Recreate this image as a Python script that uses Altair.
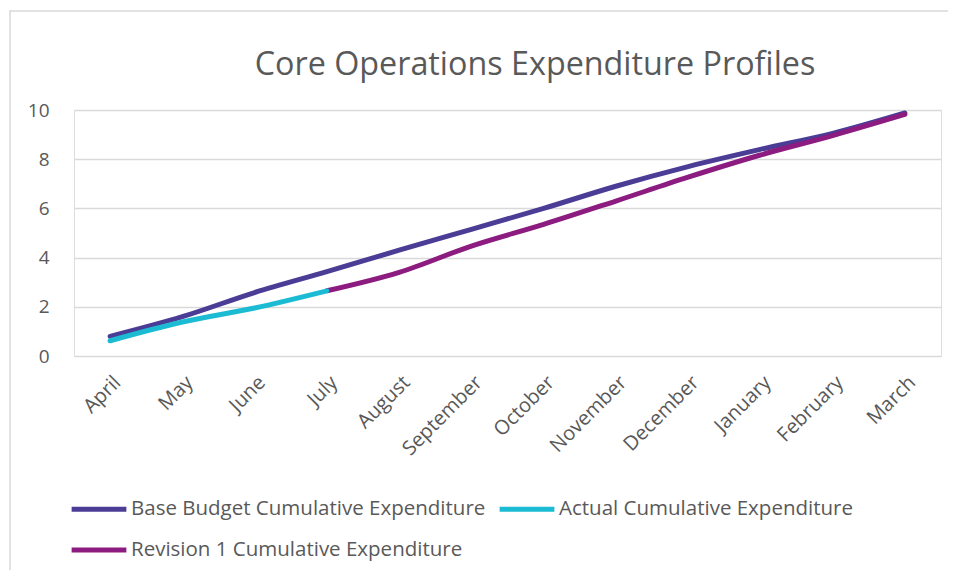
import altair as alt
import pandas as pd

title_text = "Core Operations Expenditure Profiles"
months = ["April", "May", "June", "July", "August", "September", "October",
          "November", "December", "January", "February", "March"]
base_budget = [0.80, 1.60, 2.58, 3.43, 4.30, 5.15, 6.00, 6.90, 7.70, 8.40, 9.05, 9.88]
actual = [0.62, 1.38, 1.95, 2.65]
revision1_months = months[3:]
revision1 = [2.65, 3.40, 4.47, 5.35, 6.30, 7.27, 8.17, 8.96, 9.82]

series = ["Base Budget Cumulative Expenditure", "Actual Cumulative Expenditure",
          "Revision 1 Cumulative Expenditure"]
colors = ["#4B3D96", "#1ABBD3", "#8C1C80"]

rows = []
for m, v in zip(months, base_budget):
    rows.append({"month": m, "value": v, "series": series[0], "order": 0})
for m, v in zip(revision1_months, revision1):
    rows.append({"month": m, "value": v, "series": series[2], "order": 1})
for m, v in zip(months[:4], actual):
    rows.append({"month": m, "value": v, "series": series[1], "order": 2})
df = pd.DataFrame(rows)

FONT = "Open Sans"
GRAY = "#595959"

lines = alt.Chart(df).mark_line(strokeWidth=5, interpolate="monotone", strokeCap="round").encode(
    x=alt.X("month:N", sort=months, title=None,
            scale=alt.Scale(paddingInner=0, paddingOuter=0.5),
            axis=alt.Axis(labelAngle=-45, labelFont=FONT, labelFontSize=20, labelColor=GRAY,
                          domain=False, ticks=False, labelPadding=16, grid=False)),
    y=alt.Y("value:Q", title=None, scale=alt.Scale(domain=[0, 10]),
            axis=alt.Axis(values=[0, 2, 4, 6, 8, 10], labelFont=FONT, labelFontSize=19,
                          labelColor=GRAY, domain=False, ticks=False, labelPadding=25,
                          grid=True, gridColor="#D9D9D9", gridWidth=1.5)),
    color=alt.Color("series:N", scale=alt.Scale(domain=series, range=colors),
                    legend=alt.Legend(title=None, orient="none", legendX=-5, legendY=369,
                                      direction="horizontal", columns=2, columnPadding=3,
                                      rowPadding=-8, labelLimit=0,
                                      symbolType="stroke", symbolSize=3000, symbolStrokeWidth=5,
                                      labelFont=FONT, labelFontSize=20.5, labelColor=GRAY,
                                      labelOffset=2, symbolOffset=0)),
    order=alt.Order("order:Q"),
    detail="series:N",
)

frame = alt.Chart(pd.DataFrame({"a": [0]})).mark_rect(
    fill=None, stroke="#D9D9D9", strokeWidth=1.5
).encode(x=alt.value(-64), x2=alt.value(1000), y=alt.value(-99), y2=alt.value(600))

title = alt.Chart(pd.DataFrame({"t": [title_text]})).mark_text(
    font=FONT, fontSize=32.3, color=GRAY, align="center", baseline="alphabetic"
).encode(text="t:N", x=alt.value(461), y=alt.value(-35))

chart = alt.layer(frame, lines, title).properties(
    width=867, height=246,
    autosize=alt.AutoSizeParams(type="none"),
    padding={"left": 66, "top": 102, "right": 7, "bottom": 214},
).configure_view(stroke=None).configure(background="white")

chart.save("out.html", embed_options={"renderer": "svg", "actions": False})
